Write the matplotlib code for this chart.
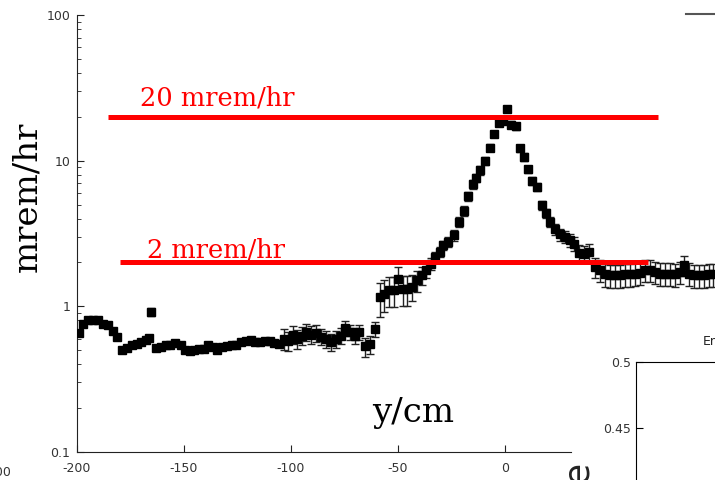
import matplotlib
matplotlib.use("Agg")
import matplotlib.pyplot as plt
from matplotlib.lines import Line2D
from matplotlib.ticker import LogLocator, NullFormatter

plt.rcParams["axes.unicode_minus"] = False

# dose rate scan along y (cm) -> mrem/hr, with error bars
pos_cm = [
    -199, -197, -195, -192.5, -190, -187.7, -185.3, -183.2, -181.3, -179,
    -176.7, -174.4, -172.1, -169.9, -167.8, -166.2, -165.2, -163, -160.8, -158.6,
    -156.4, -154, -151.6, -149.4, -147.3, -145.2, -143, -140.8, -138.6, -136.5,
    -134.4, -132.2, -130, -127.7, -125.5, -123.2, -121, -118.8, -116.6, -114.4,
    -112.2, -110, -107.8, -105.7, -103.5, -101.3, -99.2, -97.1, -94.9, -92.8,
    -90.6, -88.4, -86, -83.7, -81.4, -79.1, -76.8, -74.6, -72.4, -70.3,
    -68.2, -65.6, -63.2, -60.8, -58.6, -56.5, -54.3, -52.1, -49.9, -47.7,
    -45.6, -43.4, -41.2, -39, -36.9, -34.8, -32.6, -30.5, -28.8, -26.5,
    -23.8, -21.3, -19.2, -17.1, -15.1, -13.6, -11.7, -9.3, -7, -5,
    -2.8, -1.1, 0.8, 2.8, 5, 7, 9, 10.6, 12.8, 14.8,
    17.1, 19.2, 21, 23.4, 25.7, 28, 30.4, 32.4, 34.7, 37.1,
    39.4, 42.1, 44.4, 46.7, 49.1, 51.4, 53.7, 56, 58.4, 60.7,
    63.1, 65.4, 67.8, 70.1, 72.4, 74.8, 77.1, 79.4, 81.8, 83.6,
    86, 88.3, 90.7, 93, 95.3, 97.3,
]
dose = [
    0.66, 0.76, 0.81, 0.81, 0.80, 0.76, 0.75, 0.68, 0.62, 0.50,
    0.52, 0.54, 0.555, 0.57, 0.59, 0.61, 0.92, 0.52, 0.525, 0.54,
    0.54, 0.56, 0.54, 0.50, 0.49, 0.50, 0.51, 0.51, 0.54, 0.525,
    0.50, 0.525, 0.53, 0.545, 0.545, 0.57, 0.58, 0.59, 0.57, 0.57,
    0.58, 0.575, 0.56, 0.555, 0.60, 0.58, 0.64, 0.60, 0.63, 0.67,
    0.64, 0.66, 0.62, 0.60, 0.57, 0.60, 0.63, 0.71, 0.67, 0.63,
    0.67, 0.53, 0.55, 0.70, 1.15, 1.22, 1.29, 1.29, 1.55, 1.31,
    1.31, 1.36, 1.51, 1.63, 1.77, 1.96, 2.18, 2.36, 2.62, 2.76,
    3.07, 3.79, 4.51, 5.69, 6.87, 7.64, 8.58, 10.0, 12.3, 15.3,
    18.2, 18.7, 22.7, 17.7, 17.2, 12.2, 10.6, 8.7, 7.25, 6.59,
    4.93, 4.37, 3.79, 3.40, 3.12, 3.00, 2.84, 2.69, 2.32, 2.30,
    2.36, 1.86, 1.77, 1.66, 1.63, 1.63, 1.63, 1.66, 1.66, 1.68,
    1.70, 1.77, 1.77, 1.72, 1.68, 1.68, 1.68, 1.66, 1.72, 1.91,
    1.68, 1.63, 1.63, 1.63, 1.66, 1.66,
]
dose_err = [
    0.02, 0.02, 0.02, 0.02, 0.02, 0.02, 0.02, 0.02, 0.02, 0.02,
    0.02, 0.02, 0.02, 0.02, 0.02, 0.02, 0.06, 0.02, 0.02, 0.02,
    0.02, 0.02, 0.02, 0.02, 0.02, 0.02, 0.02, 0.02, 0.02, 0.02,
    0.02, 0.02, 0.02, 0.02, 0.02, 0.02, 0.02, 0.02, 0.02, 0.02,
    0.02, 0.02, 0.03, 0.03, 0.10, 0.09, 0.09, 0.09, 0.09, 0.09,
    0.09, 0.09, 0.08, 0.08, 0.08, 0.08, 0.08, 0.08, 0.08, 0.08,
    0.08, 0.08, 0.08, 0.08, 0.30, 0.30, 0.30, 0.30, 0.30, 0.30,
    0.30, 0.28, 0.25, 0.22, 0.20, 0.18, 0.18, 0.18, 0.20, 0.22,
    0.25, 0.30, 0.35, 0.40, 0.45, 0.50, 0.55, 0.6, 0.7, 0.8,
    0.9, 0.9, 1.0, 0.9, 0.9, 0.7, 0.6, 0.5, 0.45, 0.40,
    0.35, 0.32, 0.30, 0.30, 0.30, 0.30, 0.30, 0.30, 0.30, 0.30,
    0.30, 0.30, 0.30, 0.30, 0.30, 0.30, 0.30, 0.30, 0.30, 0.30,
    0.30, 0.30, 0.30, 0.30, 0.30, 0.30, 0.30, 0.30, 0.30, 0.30,
    0.30, 0.30, 0.30, 0.30, 0.30, 0.30,
]

limit_levels = [20, 2]
limit_spans = [(-185.5, 71.5), (-180, 66.8)]
limit_labels = ["20 mrem/hr", "2 mrem/hr"]
label_pos = [(-170.6, 24), (-167.3, 2.17)]

x_ticks = [-200, -150, -100, -50, 0]
y_ticks = [0.1, 1, 10, 100]
y_ticklabels = ["0.1", "1", "10", "100"]

W, H = 715, 480
fig = plt.figure(figsize=(W / 100, H / 100), dpi=100)

ax = fig.add_axes([77 / W, 28 / H, 638 / W, 437 / H])
ax.set_yscale("log")
ax.set_xlim(-200, 98.1)
ax.set_ylim(0.1, 100)

ax.errorbar(pos_cm, dose, yerr=dose_err, fmt="s", color="black", ms=6,
            ecolor="#222222", elinewidth=1, capsize=3, capthick=1, zorder=3)

for lvl, (x0, x1), lab, (tx, ty) in zip(limit_levels, limit_spans, limit_labels, label_pos):
    ax.plot([x0, x1], [lvl, lvl], color="red", lw=3.6, solid_capstyle="butt", zorder=4)
    ax.text(tx, ty, lab, color="red", fontsize=18.5, family="DejaVu Serif",
            ha="left", va="baseline")

for s in ["top", "right"]:
    ax.spines[s].set_visible(False)
ax.spines["bottom"].set_bounds(-200, 31)
ax.spines["left"].set_color("#222222")
ax.spines["bottom"].set_color("#222222")

ax.set_xticks(x_ticks)
ax.set_yticks(y_ticks)
ax.set_yticklabels(y_ticklabels)
ax.yaxis.set_minor_locator(LogLocator(base=10, subs=range(2, 10)))
ax.yaxis.set_minor_formatter(NullFormatter())
ax.tick_params(which="major", direction="in", length=5, labelsize=9,
               labelcolor="#333333", color="#222222")
ax.tick_params(which="minor", direction="in", length=3, color="#222222")
ax.tick_params(axis="x", pad=7)
ax.tick_params(axis="y", pad=5)

fig.text(27 / W, 1 - 197 / H, "mrem/hr", rotation=90, ha="center", va="center",
         fontsize=24.5, family="DejaVu Serif")
fig.text(413 / W, 1 - 413 / H, "y/cm", ha="center", va="center",
         fontsize=24.5, family="DejaVu Serif")

# neighbouring panel overlapping at bottom right
inset = fig.add_axes([636 / W, 0, 79 / W, 118 / H])
inset.patch.set_alpha(0)
inset.set_ylim(0.4106, 0.5)
inset.set_xticks([])
inset.set_yticks([0.45, 0.5])
inset.set_yticklabels(["0.45", "0.5"])
inset.tick_params(direction="in", length=5, labelsize=9, labelcolor="#333333")
for s in ["bottom", "right"]:
    inset.spines[s].set_visible(False)

fig.text(703 / W, 1 - 341 / H, "Energy", fontsize=9, color="#222222", va="center")
fig.text(578 / W, 1 - 472 / H, "e", rotation=90, fontsize=26, ha="center",
         va="center", color="#222222")
fig.text(11 / W, 1 - 473 / H, "200", fontsize=9, ha="right", va="center", color="#333333")
fig.add_artist(Line2D([686 / W, 1], [1 - 14 / H, 1 - 14 / H], color="#555555", lw=1.5))

fig.savefig("out.png", dpi=100)
